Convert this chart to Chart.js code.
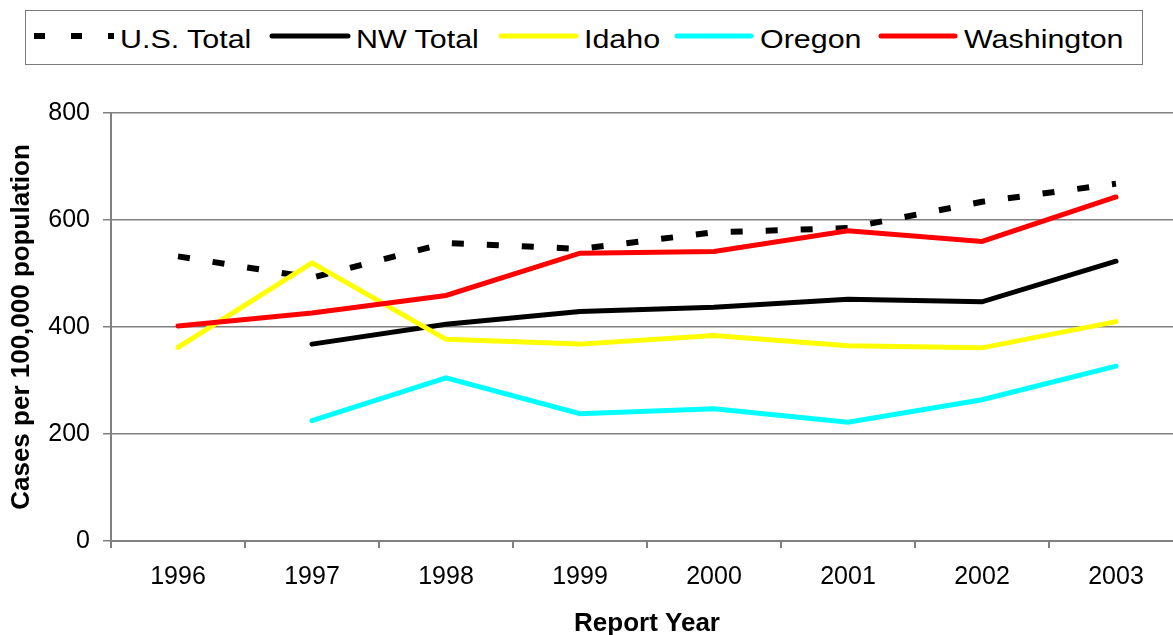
<!DOCTYPE html>
<html>
<head>
<meta charset="utf-8">
<script src="https://cdn.jsdelivr.net/npm/chart.js@4/dist/chart.umd.min.js"></script>
<style>
  html, body { margin: 0; padding: 0; background: #fff; overflow: hidden; width: 1173px; height: 635px; }
  #wrap { position: relative; width: 1173px; height: 635px; overflow: hidden; }
  #c { position: absolute; left: 0; top: 0; }
  #legend { position: absolute; left: 25px; top: 10px; width: 1118px; height: 55px; box-sizing: border-box; border: 1px solid #7a7a7a; background: #fff; }
  #legendLines { position: absolute; left: 0; top: 0; }
  .lt { position: absolute; top: 39px; font-family: "Liberation Sans", Arial, sans-serif; font-size: 26px; line-height: 1; color: #000; white-space: nowrap; transform-origin: 0 50%; transform: translateY(-50%) scaleX(1.17); }
</style>
</head>
<body>
<div id="wrap">
  <canvas id="c" width="1200" height="635"></canvas>
  <svg id="legendLines" width="1173" height="70"></svg>
  <div id="legendText"></div>
</div>
<script>
// ---- data ----
const years = ["1996", "1997", "1998", "1999", "2000", "2001", "2002", "2003"];
const usTotal    = [532, 492, 557, 546, 577, 585, 634, 668];
const nwTotal    = [null, 368, 405, 429, 437, 452, 447, 523];
const idaho      = [362, 520, 377, 368, 384, 365, 361, 410];
const oregon     = [null, 225, 305, 238, 247, 222, 264, 327];
const washington = [402, 426, 459, 538, 541, 580, 560, 643];
const seriesNames = ["U.S. Total", "NW Total", "Idaho", "Oregon", "Washington"];
const yTicks = [0, 200, 400, 600, 800];
const xTitle = "Report Year";
const yTitle = "Cases per 100,000 population";

// ---- styles ----
const colors = ["#000000", "#000000", "#FFFF00", "#00FFFF", "#FF0000"];
const FONT = "'Liberation Sans', Arial, sans-serif";

function ds(i, values, extra) {
  return Object.assign({
    label: seriesNames[i],
    data: values,
    borderColor: colors[i],
    backgroundColor: colors[i],
    borderWidth: 5,
    pointRadius: 0,
    pointHoverRadius: 0,
    tension: 0,
    fill: false,
    spanGaps: false,
    borderCapStyle: 'round',
    borderJoinStyle: 'miter',
    order: 5 - i
  }, extra || {});
}

const chart = new Chart(document.getElementById('c'), {
  type: 'line',
  data: {
    labels: years,
    datasets: [
      ds(0, usTotal, { borderDash: [12, 23], borderWidth: 6, borderCapStyle: 'butt' }),
      ds(1, nwTotal),
      ds(2, idaho),
      ds(3, oregon),
      ds(4, washington)
    ]
  },
  options: {
    responsive: false,
    animation: false,
    layout: { padding: { top: 113, right: 17, left: 0, bottom: 0 } },
    plugins: { legend: { display: false }, tooltip: { enabled: false } },
    scales: {
      x: {
        type: 'category',
        offset: true,
        grid: { offset: true, drawOnChartArea: false, drawTicks: true, tickLength: 7, color: '#808080', lineWidth: 2 },
        border: { display: true, color: '#808080', width: 2 },
        ticks: { color: '#000', font: { family: FONT, size: 25 }, padding: 14, maxRotation: 0, autoSkip: false },
        title: { display: true, text: xTitle, color: '#000', font: { family: FONT, size: 26, weight: 'bold', lineHeight: 0.85 }, padding: { top: 0, bottom: 0 } },
        afterFit: (s) => { s.height = 94; }
      },
      y: {
        min: 0,
        max: 800,
        afterBuildTicks: (s) => { s.ticks = yTicks.map(v => ({ value: v })); },
        grid: { color: '#808080', lineWidth: 1.5, drawTicks: true, tickLength: 8 },
        border: { display: true, color: '#808080', width: 2 },
        ticks: { color: '#000', font: { family: FONT, size: 25 }, padding: 13 },
        title: { display: true, text: yTitle, color: '#000', font: { family: FONT, size: 26, weight: 'bold', lineHeight: 1.2 }, padding: { top: 6, bottom: 0 } },
        afterFit: (s) => { s.width = 111; }
      }
    }
  }
});

// ---- legend (HTML/SVG) ----
const legendItems = [
  { x1: 34, x2: 114, tx: 120 },
  { x1: 272, x2: 348, tx: 356 },
  { x1: 501, x2: 576, tx: 584 },
  { x1: 677, x2: 751, tx: 760 },
  { x1: 881, x2: 955, tx: 964 }
];
const svg = document.getElementById('legendLines');
const lt = document.getElementById('legendText');
svg.innerHTML = '<rect x="25.5" y="10.5" width="1117" height="54" fill="#fff" stroke="#7a7a7a" stroke-width="1"/>';
seriesNames.forEach((name, i) => {
  const it = legendItems[i];
  const line = document.createElementNS('http://www.w3.org/2000/svg', 'line');
  line.setAttribute('x1', it.x1); line.setAttribute('x2', it.x2);
  line.setAttribute('y1', 36); line.setAttribute('y2', 36);
  line.setAttribute('stroke', colors[i]);
  if (i === 0) {
    line.setAttribute('stroke-width', 6);
    line.setAttribute('stroke-dasharray', '11 26');
  } else {
    line.setAttribute('stroke-width', 5);
    line.setAttribute('stroke-linecap', 'round');
  }
  svg.appendChild(line);
  const sp = document.createElement('span');
  sp.className = 'lt';
  sp.style.left = it.tx + 'px';
  sp.textContent = name;
  lt.appendChild(sp);
});
</script>
</body>
</html>
